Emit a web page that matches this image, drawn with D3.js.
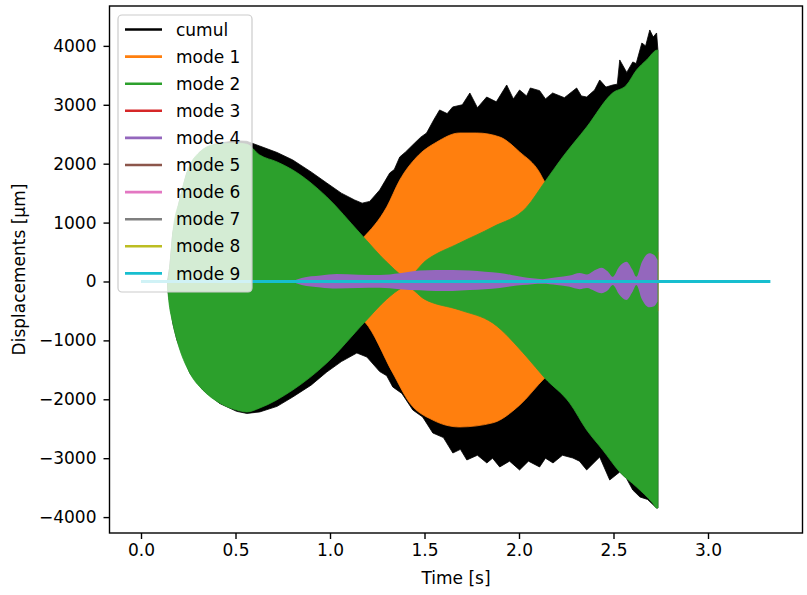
<!DOCTYPE html>
<html>
<head>
<meta charset="utf-8">
<script src="https://cdn.jsdelivr.net/npm/d3@7"></script>
<style>
  body { margin: 0; background: #fff; }
  text { font-family: "DejaVu Sans", sans-serif; }
</style>
</head>
<body>
<div id="chart"></div>
<script>
// envelopes, [time s, displacement um]
var cumulUpper = [[0,0],[0.14,0],[0.152,246],[0.168,823],[0.205,1392],[0.242,1842],[0.311,2199],[0.40,2340],[0.50,2390],
  [0.56,2380],[0.628,2300],[0.72,2190],[0.803,2063],[0.90,1860],[0.983,1672],[1.06,1500],[1.13,1384],[1.17,1330],[1.21,1360],
  [1.263,1553],[1.29,1700],[1.316,1842],[1.34,1900],[1.369,2114],[1.40,2200],[1.448,2351],[1.48,2450],[1.511,2521],[1.55,2750],
  [1.58,2912],[1.62,2850],[1.649,2963],[1.70,3000],[1.74,3200],[1.78,2950],[1.829,3132],[1.88,3050],[1.935,3336],[1.97,3100],
  [2.003,3251],[2.04,3150],[2.06,3285],[2.109,3240],[2.14,3100],[2.178,3200],[2.24,3120],[2.305,3285],[2.33,3150],[2.358,3132],
  [2.40,3250],[2.427,3421],[2.46,3300],[2.496,3336],[2.52,3350],[2.533,3761],[2.57,3550],[2.602,3727],[2.62,3700],[2.65,4049],
  [2.67,4000],[2.692,4270],[2.71,4150],[2.728,4219],[2.735,3930]];
var cumulLower = [[0,0],[0.14,0],[0.142,-144],[0.168,-705],[0.19,-993],[0.258,-1553],[0.327,-1842],[0.416,-2070],[0.506,-2205],
  [0.56,-2240],[0.628,-2215],[0.72,-2120],[0.803,-1961],[0.90,-1760],[0.983,-1537],[1.06,-1360],[1.142,-1214],[1.195,-1282],
  [1.263,-1530],[1.30,-1600],[1.332,-1791],[1.38,-1900],[1.438,-2182],[1.49,-2300],[1.544,-2572],[1.60,-2650],[1.65,-2912],
  [1.69,-2850],[1.724,-3030],[1.78,-2950],[1.83,-3081],[1.86,-3000],[1.898,-3149],[1.95,-3050],[2.003,-3200],[2.05,-3050],
  [2.109,-3149],[2.14,-3000],[2.18,-3081],[2.23,-2950],[2.285,-2997],[2.32,-3050],[2.358,-3200],[2.427,-2980],[2.45,-3150],
  [2.48,-3370],[2.533,-3234],[2.57,-3350],[2.602,-3540],[2.64,-3659],[2.68,-3700],[2.728,-3846],[2.735,-3846]];

var mode1Upper = [[0.85,0],[1.0,300],[1.1,520],[1.173,735],[1.30,1265],[1.369,1723],[1.459,2114],[1.565,2368],[1.686,2521],
  [1.776,2521],[1.898,2453],[2.003,2200],[2.109,1850],[2.136,1690],[2.3,1200],[2.5,800],[2.735,500]];
var mode1Lower = [[0.85,0],[1.0,-300],[1.1,-520],[1.184,-688],[1.332,-1553],[1.422,-2063],[1.544,-2352],[1.686,-2470],
  [1.861,-2400],[2.003,-2100],[2.136,-1640],[2.3,-1200],[2.5,-800],[2.735,-500]];

var mode2Upper = [[0,0],[0.14,0],[0.152,246],[0.168,823],[0.205,1392],[0.242,1842],[0.311,2199],[0.40,2334],[0.50,2351],
  [0.56,2330],[0.628,2148],[0.72,2030],[0.803,1893],[0.983,1435],[1.158,823],[1.30,330],[1.385,90],[1.40,60],[1.511,365],
  [1.686,654],[1.861,925],[2.041,1265],[2.136,1689],[2.231,2114],[2.358,2623],[2.495,3200],[2.569,3336],[2.622,3591],
  [2.675,3761],[2.733,3930],[2.735,3930]];
var mode2Lower = [[0,0],[0.14,0],[0.142,-144],[0.168,-705],[0.19,-993],[0.258,-1553],[0.327,-1842],[0.416,-2063],[0.506,-2182],
  [0.56,-2215],[0.628,-2148],[0.803,-1842],[0.983,-1384],[1.184,-688],[1.30,-300],[1.385,-100],[1.40,-80],[1.50,-300],
  [1.686,-484],[1.861,-705],[2.041,-1282],[2.136,-1638],[2.268,-2063],[2.358,-2521],[2.443,-2861],[2.533,-3234],
  [2.622,-3489],[2.707,-3761],[2.728,-3846],[2.735,-3846]];

var mode4T  = [0.80,0.85,0.95,1.035,1.15,1.263,1.369,1.474,1.56,1.649,1.74,1.82,1.898,1.96,2.019,2.07,2.125,2.20,2.268,
  2.321,2.36,2.40,2.436,2.47,2.496,2.53,2.568,2.60,2.621,2.65,2.69,2.715,2.733];
var mode4Hi = [0,60,100,127,115,110,140,185,195,195,185,165,145,110,75,55,40,70,100,145,120,190,235,170,80,250,336,200,80,330,480,450,365];
var mode4Lo = [0,-60,-100,-120,-110,-105,-130,-150,-160,-160,-145,-130,-110,-80,-60,-45,-40,-60,-90,-130,-110,-160,-200,-150,-60,-220,-315,-180,-60,-300,-438,-420,-340];

// the small modes, all sitting on zero
var mode3 = [[0,0],[2.735,0]];
var mode5 = [[0,0],[2.735,0]];
var mode6 = [[0,0],[2.735,0]];
var mode7 = [[0,0],[2.735,0]];
var mode8 = [[0,0],[2.735,0]];
var mode9 = [[0,0],[3.33,0]];

var names  = ["cumul","mode 1","mode 2","mode 3","mode 4","mode 5","mode 6","mode 7","mode 8","mode 9"];
var colors = ["#000000","#ff7f0e","#2ca02c","#d62728","#9467bd","#8c564b","#e377c2","#7f7f7f","#bcbd22","#17becf"];
var xTicks = [0,0.5,1.0,1.5,2.0,2.5,3.0];
var yTicks = [-4000,-3000,-2000,-1000,0,1000,2000,3000,4000];

var svg = d3.select("#chart").append("svg")
  .attr("width", 807)
  .attr("height", 595);

var axL = 109.5, axR = 802.5, axT = 6, axB = 533;

var x = d3.scaleLinear().domain([-0.1667, 3.5]).range([axL, axR]);
var y = d3.scaleLinear().domain([-4270, 4677]).range([axB, axT]);

var line = d3.line().x(function(d) { return x(d[0]); }).y(function(d) { return y(d[1]); });
var smooth = d3.line().x(function(d) { return x(d[0]); }).y(function(d) { return y(d[1]); }).curve(d3.curveMonotoneX);

function envelope(up, low, col, gen) {
  var p = gen(up) + gen(low.slice().reverse()).replace(/^M/, "L") + "Z";
  svg.append("path")
    .attr("d", p)
    .attr("fill", col)
    .attr("stroke", col)
    .attr("stroke-width", 0.8);
}

envelope(cumulUpper, cumulLower, colors[0], line);
envelope(mode1Upper, mode1Lower, colors[1], smooth);
envelope(mode2Upper, mode2Lower, colors[2], smooth);

svg.append("path")
  .attr("d", line(mode3))
  .attr("stroke", colors[3]).attr("stroke-width", 2.6).attr("fill", "none");

var area4 = d3.area()
  .x(function(d, i) { return x(mode4T[i]); })
  .y0(function(d, i) { return y(mode4Lo[i]); })
  .y1(function(d, i) { return y(mode4Hi[i]); })
  .curve(d3.curveMonotoneX);
svg.append("path")
  .attr("d", area4(mode4T))
  .attr("fill", colors[4]);

[mode5, mode6, mode7, mode8].forEach(function(m, i) {
  svg.append("path")
    .attr("d", line(m))
    .attr("stroke", colors[5 + i]).attr("stroke-width", 2.6).attr("fill", "none");
});

svg.append("path")
  .attr("d", line(mode9))
  .attr("stroke", colors[9]).attr("stroke-width", 3.2).attr("fill", "none");

// axes
var xAxis = svg.append("g")
  .attr("transform", "translate(0," + axB + ")")
  .call(d3.axisBottom(x).tickValues(xTicks).tickFormat(d3.format(".1f")).tickSize(6).tickSizeOuter(0).tickPadding(5));
var yAxis = svg.append("g")
  .attr("transform", "translate(" + axL + ",0)")
  .call(d3.axisLeft(y).tickValues(yTicks).tickFormat(d3.format("d")).tickSize(6).tickSizeOuter(0).tickPadding(7));

[xAxis, yAxis].forEach(function(a) {
  a.selectAll("text").attr("font-size", "17px").attr("fill", "#000").style("font-family", "DejaVu Sans");
  a.selectAll("line").attr("stroke-width", 1.4);
  a.select(".domain").remove();
});

svg.append("rect")
  .attr("x", axL).attr("y", axT)
  .attr("width", axR - axL).attr("height", axB - axT)
  .attr("fill", "none").attr("stroke", "#000").attr("stroke-width", 1.4);

svg.append("text")
  .attr("x", (axL + axR) / 2).attr("y", 584)
  .attr("text-anchor", "middle").attr("font-size", "17px")
  .text("Time [s]");

svg.append("text")
  .attr("transform", "translate(25," + (axT + axB) / 2 + ") rotate(-90)")
  .attr("text-anchor", "middle").attr("font-size", "17px")
  .text("Displacements [µm]");

// legend
var lg = svg.append("g");
lg.append("rect")
  .attr("x", 118).attr("y", 15).attr("width", 134).attr("height", 277).attr("rx", 4)
  .attr("fill", "#fff").attr("fill-opacity", 0.8)
  .attr("stroke", "#cccccc").attr("stroke-width", 1.2);

names.forEach(function(n, i) {
  var yy = 29.5 + i * 27.1;
  lg.append("line")
    .attr("x1", 125).attr("x2", 162).attr("y1", yy).attr("y2", yy)
    .attr("stroke", colors[i]).attr("stroke-width", 2.6);
  lg.append("text")
    .attr("x", 176).attr("y", yy).attr("dy", "0.36em")
    .attr("font-size", "17px")
    .text(n);
});
</script>
</body>
</html>
